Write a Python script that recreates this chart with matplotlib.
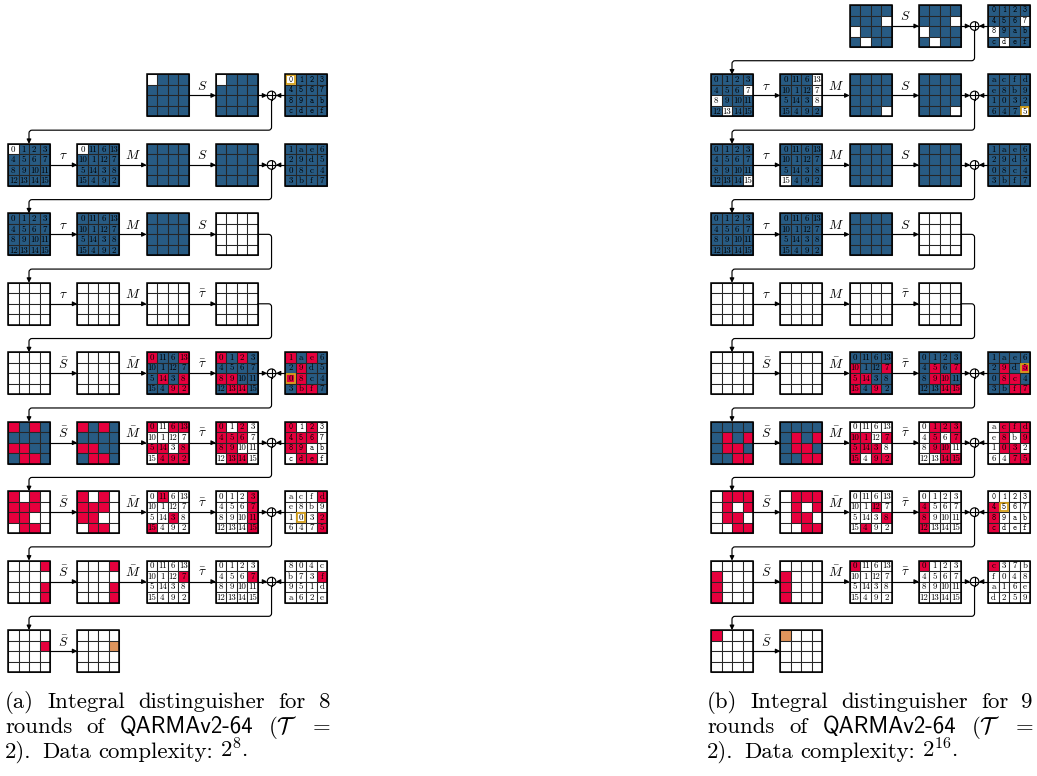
import matplotlib
matplotlib.use("Agg")
import matplotlib.pyplot as plt
from matplotlib.patches import Rectangle, Circle, FancyArrowPatch
from matplotlib.path import Path

plt.rcParams["mathtext.fontset"] = "cm"

BLUE = "#285b83"
RED = "#e6003d"
ORANGE = "#df955c"
GOLD = "#d6a11c"
FILL = {"b": BLUE, "w": "white", "r": RED, "o": ORANGE}

# cell labels
ID = [str(i) for i in range(16)]
TAU = "0 11 6 13 10 1 12 7 5 14 3 8 15 4 9 2".split()
K0 = list("0123456789abcdef")
K1 = list("1ae629d508c43bf7")
K2 = list("acfde8b910326475")
K3 = list("804cb73f951da62e")
K4 = list("c37bf048a16ed259")

OP = {"t": r"$\tau$", "M": r"$M$", "S": r"$S$",
      "Sb": r"$\bar{S}$", "Mb": r"$\bar{M}$", "tb": r"$\bar{\tau}$"}

B16 = "bbbb bbbb bbbb bbbb"
W16 = "wwww wwww wwww wwww"

# ---- panel (a): 8 rounds ----
a_start = [2, 0, 0, 0, 0, 0, 0, 0, 0]
a_ops = [["S"], ["t", "M", "S"], ["t", "M", "S"], ["t", "M", "tb"],
         ["Sb", "Mb", "tb"], ["Sb", "Mb", "tb"], ["Sb", "Mb", "tb"],
         ["Sb", "Mb", "tb"], ["Sb"]]
a_cells = [
    ["wbbb bbbb bbbb bbbb", "wbbb bbbb bbbb bbbb"],
    ["wbbb bbbb bbbb bbbb", "wbbb bbbb bbbb bbbb", B16, B16],
    [B16, B16, B16, W16],
    [W16, W16, W16, W16],
    [W16, W16, "rbbr bbbb brbr bbrr", "rbrb bbbb rrbb brrb"],
    ["rbrb bbbb rrbb brrb", "rbrb bbbb rrbb brrb", "rwrr wwww rrwr wrrr", "rwrw rrrw rrww wrrw"],
    ["rwrw rrrw rrww wrrw", "rwrw rrrw rrww wrrw", "wrww wwww wwrw rwww", "wwwr wwwr wwwr wwwr"],
    ["wwwr wwww wwwr wwwr", "wwwr wwww wwwr wwwr", "wwww wwwr wwww wwww", "wwww wwwr wwww wwww"],
    ["wwww wwwr wwww wwww", "wwww wwwo wwww wwww"],
]
a_labels = [
    [None, None],
    [ID, TAU, None, None],
    [ID, TAU, None, None],
    [None, None, None, None],
    [None, None, TAU, ID],
    [None, None, TAU, ID],
    [None, None, TAU, ID],
    [None, None, TAU, ID],
    [None, None],
]
a_keys = [
    ("Wbbb bbbb bbbb bbbb", K0),
    (B16, K1),
    None,
    None,
    ("rbrb brbb Rrbb brrb", K1),
    ("rwrw rrrw rrww wrrw", K0),
    ("wwwr wwww wWwr wwwr", K2),
    ("wwww wwwr wwww wwww", K3),
    None,
]

# ---- panel (b): 9 rounds ----
b_start = [2, 0, 0, 0, 0, 0, 0, 0, 0, 0]
b_ops = [["S"], ["t", "M", "S"], ["t", "M", "S"], ["t", "M", "S"], ["t", "M", "tb"],
         ["Sb", "Mb", "tb"], ["Sb", "Mb", "tb"], ["Sb", "Mb", "tb"],
         ["Sb", "Mb", "tb"], ["Sb"]]
b_cells = [
    ["bbbb bbbw wbbb bwbb", "bbbb bbbw wbbb bwbb"],
    ["bbbb bbbw wbbb bwbb", "bbbw bbbw bbbw bbbb", "bbbb bbbb bbbb bbbw", "bbbb bbbb bbbb bbbw"],
    ["bbbb bbbb bbbb bbbw", "bbbb bbbb bbbb wbbb", B16, B16],
    [B16, B16, B16, W16],
    [W16, W16, W16, W16],
    [W16, W16, "bbbb rbbr rrbb rbrb", "bbbb brbr brrb bbrr"],
    ["bbbb brbr brrb bbrr", "bbbb brbr brrb bbrr", "wwww rrwr rrrw rwrr", "wrrr wrwr wrrw wwrr"],
    ["wrrr wrwr wrrw wwrr", "wrrr wrwr wrrw wwrr", "wwww wwrw wwwr wrww", "wwww rwww rwww rwww"],
    ["wwww rwww rwww rwww", "wwww rwww rwww rwww", "rwww wwww wwww wwww", "rwww wwww wwww wwww"],
    ["rwww wwww wwww wwww", "owww wwww wwww wwww"],
]
b_labels = [
    [None, None],
    [ID, TAU, None, None],
    [ID, TAU, None, None],
    [ID, TAU, None, None],
    [None, None, None, None],
    [None, None, TAU, ID],
    [None, None, TAU, ID],
    [None, None, TAU, ID],
    [None, None, TAU, ID],
    [None, None],
]
b_keys = [
    ("bbbb bbbw wbbb bwbb", K0),
    ("bbbb bbbb bbbb bbbW", K2),
    (B16, K1),
    None,
    None,
    ("bbbb brbR brrb bbrr", K1),
    ("wrrr wrwr wrrw wwrr", K2),
    ("wwww rWww rwww rwww", K0),
    ("rwww wwww wwww wwww", K4),
    None,
]

# layout (pixels)
GRID = 42.0
CELL = GRID / 4
PITCH_X = 69.3
PITCH_Y = 69.45

fig = plt.figure(figsize=(10.37, 7.76), dpi=100)
ax = fig.add_axes([0, 0, 1, 1])
ax.set_xlim(0, 1037)
ax.set_ylim(776, 0)
ax.axis("off")


def draw_grid(x, y, cells, labels):
    cells = cells.replace(" ", "")
    hexkey = labels is not None and labels[10] == "a"
    for k, c in enumerate(cells):
        i, j = divmod(k, 4)
        cx, cy = x + j * CELL, y + i * CELL
        ax.add_patch(Rectangle((cx, cy), CELL, CELL, fc=FILL[c.lower()],
                               ec="#262626", lw=0.75, zorder=2))
        if c.isupper():
            ax.add_patch(Rectangle((cx + 0.9, cy + 0.9), CELL - 1.8, CELL - 1.8,
                                   fc="none", ec=GOLD, lw=1.3, zorder=3))
        if labels is not None:
            if hexkey:
                ax.text(cx + CELL / 2, cy + CELL / 2 + 0.2, labels[k], family="cmtt10",
                        fontsize=5.6, ha="center", va="center", zorder=4)
            else:
                ax.text(cx + CELL / 2, cy + CELL / 2 + 0.2, labels[k], family="cmr10",
                        fontsize=6.4, ha="center", va="center", zorder=4)
    ax.add_patch(Rectangle((x, y), GRID, GRID, fc="none", ec="black", lw=1.1, zorder=5))


def arrow(verts, codes=None):
    if codes is None:
        codes = [Path.MOVETO] + [Path.LINETO] * (len(verts) - 1)
    ax.add_patch(FancyArrowPatch(path=Path(verts, codes), arrowstyle="-|>",
                                 mutation_scale=6.5, lw=0.85, color="black",
                                 shrinkA=0, shrinkB=0, zorder=6))


def turn_path(p0, xc, ym, yw, xl, ybot, start_horiz):
    r = 3.0
    L, C = Path.LINETO, Path.CURVE3
    if start_horiz:
        verts = [p0, (xc - r, ym), (xc, ym), (xc, ym + r)]
        codes = [Path.MOVETO, L, C, C]
    else:
        verts = [p0]
        codes = [Path.MOVETO]
    verts += [(xc, yw - r), (xc, yw), (xc - r, yw), (xl + r, yw), (xl, yw), (xl, yw + r), (xl, ybot)]
    codes += [L, C, C, L, C, C, L]
    arrow(verts, codes)


def draw_panel(x0, y0, start, ops, cells, labels, keys):
    nrows = len(cells)
    xc = x0 + 3 * PITCH_X + GRID + (PITCH_X - GRID) / 2
    for r in range(nrows):
        y = y0 + r * PITCH_Y
        ym = y + GRID / 2
        cols = list(range(start[r], start[r] + len(cells[r])))
        for g, c in enumerate(cols):
            draw_grid(x0 + c * PITCH_X, y, cells[r][g], labels[r][g])
        for g, name in enumerate(ops[r]):
            xa = x0 + cols[g] * PITCH_X + GRID
            xb = x0 + cols[g + 1] * PITCH_X
            arrow([(xa, ym), (xb, ym)])
            ax.text((xa + xb) / 2, ym - 9, OP[name], fontsize=9.5,
                    ha="center", va="center")
        if r == nrows - 1:
            continue
        yw = y + GRID + (PITCH_Y - GRID) / 2
        xl = x0 + GRID / 2
        ybot = y + PITCH_Y
        xlast = x0 + cols[-1] * PITCH_X + GRID
        if keys[r] is not None:
            R = 4.3
            draw_grid(x0 + 4 * PITCH_X, y, keys[r][0], keys[r][1])
            arrow([(xlast, ym), (xc - R, ym)])
            arrow([(x0 + 4 * PITCH_X, ym), (xc + R, ym)])
            ax.add_patch(Circle((xc, ym), R, fc="white", ec="black", lw=0.85, zorder=7))
            ax.plot([xc - R, xc + R], [ym, ym], color="black", lw=0.8, zorder=8)
            ax.plot([xc, xc], [ym - R, ym + R], color="black", lw=0.8, zorder=8)
            turn_path((xc, ym + R), xc, ym, yw, xl, ybot, False)
        else:
            turn_path((xlast, ym), xc, ym, yw, xl, ybot, True)


draw_panel(8, 74.45, a_start, a_ops, a_cells, a_labels, a_keys)
draw_panel(711, 5, b_start, b_ops, b_cells, b_labels, b_keys)

# captions
FS = 16.4
EM = FS * 100 / 72
renderer = fig.canvas.get_renderer()


def put_words(x, yb, words, width=None, gaps=None):
    texts = [ax.text(0, yb, w, family=f, fontsize=FS, va="baseline") for w, f in words]
    widths = [t.get_window_extent(renderer).width for t in texts]
    if width is not None:
        g = (width - sum(widths)) / (len(words) - 1)
        gaps = [g] * (len(words) - 1)
    xx = x
    for k, t in enumerate(texts):
        t.set_x(xx)
        if k < len(gaps):
            xx += widths[k] + gaps[k]


def caption(x, yb, width, tag, n, exp):
    put_words(x, yb, [(f"({tag})", "cmr10"), ("Integral", "cmr10"),
                      ("distinguisher", "cmr10"), ("for", "cmr10"), (str(n), "cmr10")],
              width=width)
    put_words(x, yb + 25, [("rounds", "cmr10"), ("of", "cmr10"), ("QARMAv2-64", "cmss10"),
                           (r"($\mathcal{T}$", "cmr10"), ("=", "cmr10")], width=width)
    put_words(x, yb + 50, [("2).", "cmr10"), ("Data", "cmr10"), ("complexity:", "cmr10"),
                           ("$2^{%s}$." % exp, "cmr10")],
              gaps=[0.45 * EM, 0.33 * EM, 0.33 * EM])


caption(5, 708, 325, "a", 8, "8")
caption(707, 708, 326, "b", 9, "16")

fig.savefig("out.png", dpi=100)
